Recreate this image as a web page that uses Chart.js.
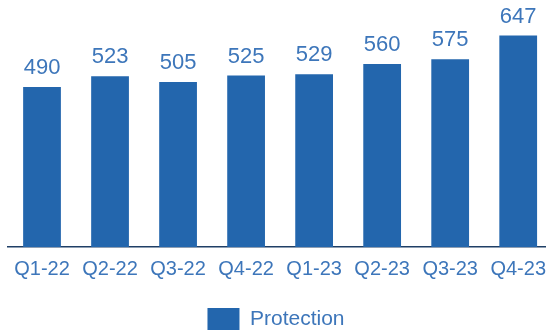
<!DOCTYPE html>
<html>
<head>
<meta charset="utf-8">
<script src="https://cdn.jsdelivr.net/npm/chart.js@4/dist/chart.umd.min.js"></script>
<style>
  html, body { margin: 0; padding: 0; background: #fff; overflow: hidden; }
  #wrap { width: 556px; height: 340px; }
</style>
</head>
<body>
<div id="wrap"><canvas id="protectionChart" width="556" height="340"></canvas></div>
<script>
const quarters = ['Q1-22', 'Q2-22', 'Q3-22', 'Q4-22', 'Q1-23', 'Q2-23', 'Q3-23', 'Q4-23'];
const protection = [490, 523, 505, 525, 529, 560, 575, 647];

const barBlue = '#2366ad';
const textBlue = '#3d76ba';
const fontFamily = '"Liberation Sans", Arial, sans-serif';

// value printed above each bar
const barValues = {
  id: 'barValues',
  afterDatasetsDraw(chart) {
    const ctx = chart.ctx;
    const meta = chart.getDatasetMeta(0);
    ctx.save();
    ctx.fillStyle = textBlue;
    ctx.font = '22px ' + fontFamily;
    ctx.textAlign = 'center';
    ctx.textBaseline = 'bottom';
    meta.data.forEach((bar, i) => {
      ctx.fillText(chart.data.datasets[0].data[i], bar.x, bar.y - 8);
    });
    ctx.restore();
  }
};

// keep the legend centred on the visible part of the page
const legendShift = {
  id: 'legendShift',
  afterUpdate(chart) {
    chart.legend.left -= 6;
    chart.legend.right -= 6;
  }
};

const ctx = document.getElementById('protectionChart').getContext('2d');
new Chart(ctx, {
  type: 'bar',
  data: {
    labels: quarters,
    datasets: [{
      label: 'Protection',
      data: protection,
      backgroundColor: barBlue,
      categoryPercentage: 1,
      barPercentage: 0.555
    }]
  },
  options: {
    responsive: false,
    animation: false,
    layout: { padding: { left: 8, right: 0, top: 0, bottom: 0 } },
    plugins: {
      tooltip: { enabled: false },
      legend: {
        position: 'bottom',
        labels: {
          color: textBlue,
          boxWidth: 32,
          boxHeight: 22,
          padding: 17,
          font: { family: fontFamily, size: 21 }
        }
      }
    },
    scales: {
      y: {
        display: false,
        min: 0,
        max: 756
      },
      x: {
        grid: { display: false, drawTicks: false },
        border: { display: true, color: '#1f3f66', width: 1.5 },
        ticks: {
          color: textBlue,
          padding: 10,
          maxRotation: 0,
          autoSkip: false,
          font: { family: fontFamily, size: 20 }
        }
      }
    }
  },
  plugins: [barValues, legendShift]
});
</script>
</body>
</html>
